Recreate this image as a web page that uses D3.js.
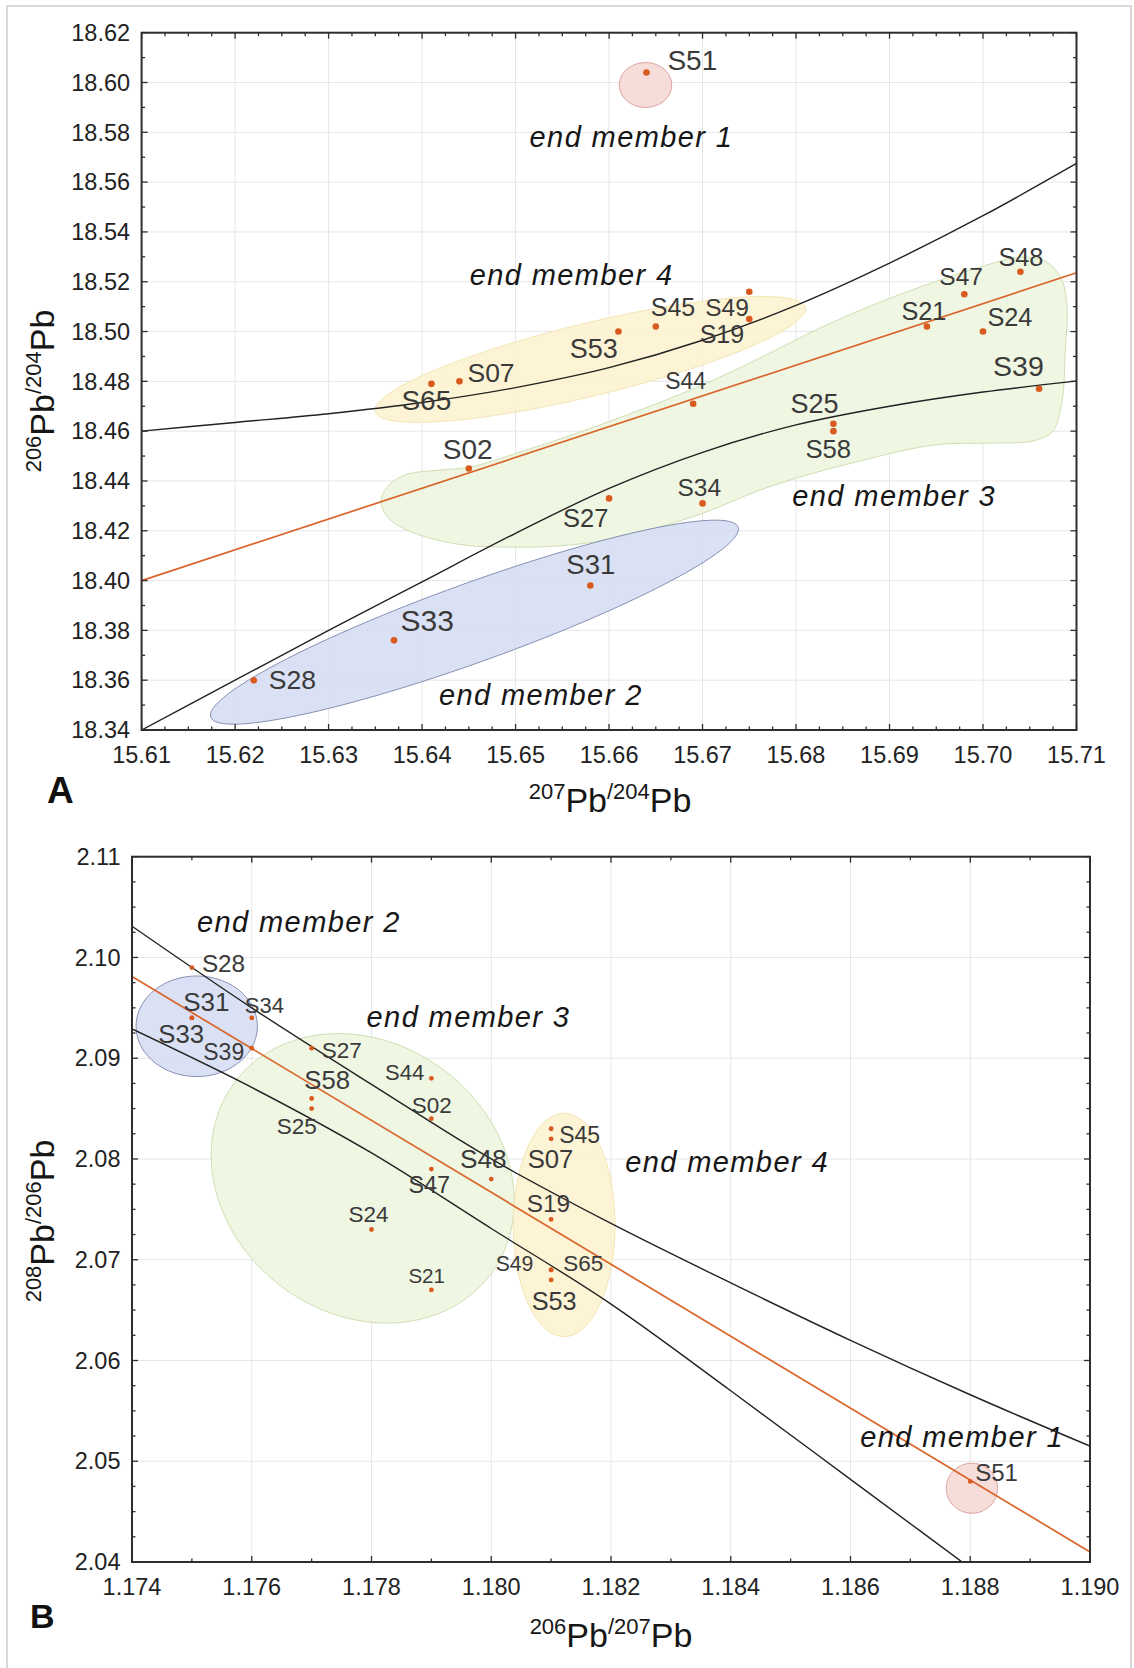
<!DOCTYPE html>
<html>
<head>
<meta charset="utf-8">
<script src="https://cdn.jsdelivr.net/npm/d3@7"></script>
<style>
  body { margin: 0; background: #ffffff; }
  svg { display: block; font-family: "Liberation Sans", Arial, Helvetica, sans-serif; }
</style>
</head>
<body>
<svg id="fig" width="1134" height="1668"></svg>
<script>
// ================= Panel A: 207Pb/204Pb vs 206Pb/204Pb =================
const samplesA  = ["S51","S65","S07","S53","S45","S49","S19","S44","S02","S27","S34","S25","S58","S21","S47","S48","S24","S39","S31","S33","S28"];
const pb207_204 = [15.664,15.641,15.644,15.661,15.665,15.675,15.675,15.669,15.645,15.660,15.670,15.684,15.684,15.694,15.698,15.704,15.700,15.706,15.658,15.637,15.622];
const pb206_204 = [18.604,18.479,18.480,18.500,18.502,18.516,18.505,18.471,18.445,18.433,18.431,18.463,18.460,18.502,18.515,18.524,18.500,18.477,18.398,18.376,18.360];

const ticksAx = [15.61,15.62,15.63,15.64,15.65,15.66,15.67,15.68,15.69,15.70,15.71];
const ticksAy = [18.34,18.36,18.38,18.40,18.42,18.44,18.46,18.48,18.50,18.52,18.54,18.56,18.58,18.60,18.62];

// mixing curves and regression line
const curveAx      = [15.61,15.62,15.63,15.64,15.65,15.66,15.67,15.68,15.69,15.70,15.71];
const mixUpperAy   = [18.460,18.4635,18.4670,18.4715,18.4775,18.4855,18.4965,18.5105,18.5275,18.5465,18.5675];
const mixLowerAy   = [18.340,18.360,18.380,18.3995,18.419,18.437,18.4515,18.4625,18.4700,18.4757,18.4801];
const regressionAx = [15.61,15.71];
const regressionAy = [18.400,18.5236];

// end-member fields: centre and two conjugate semi-axis end points
const fieldA1 = {c:[15.6639,18.599],  a:[15.6667,18.599],  b:[15.6639,18.608]};
const fieldA2 = {c:[15.6456,18.3833], a:[15.6738,18.4215], b:[15.6441,18.3981]};
const fieldA4 = {c:[15.6580,18.4888], a:[15.6810,18.5097], b:[15.6571,18.5030]};
// end member 3 field outline
const fieldA3 = [
  [15.63561,18.43233],[15.63657,18.43876],[15.63849,18.44277],[15.64192,18.44438],[15.64513,18.44558],
  [15.65048,18.45160],[15.65690,18.45964],[15.66331,18.46848],[15.66973,18.47812],[15.67615,18.48936],
  [15.68257,18.50141],[15.68899,18.51185],[15.69540,18.52068],[15.70075,18.52711],[15.70396,18.52992],
  [15.70663,18.52831],[15.70834,18.52149],[15.70898,18.51024],[15.70877,18.49056],[15.70845,18.47169],
  [15.70738,18.45964],[15.70524,18.45602],[15.70107,18.45522],[15.69572,18.45482],[15.69219,18.45281],
  [15.68684,18.44799],[15.68149,18.44277],[15.67615,18.43635],[15.67037,18.42751],[15.66502,18.42108],
  [15.65978,18.41627],[15.65443,18.41386],[15.64908,18.41345],[15.64373,18.41466],[15.63838,18.42028],
  [15.63624,18.42590]
];
const notesAtext = ["end member 1","end member 4","end member 3","end member 2"];
const notesAx    = [15.6515,15.6451,15.6796,15.6418];
const notesAy    = [18.5742,18.5187,18.4299,18.3500];

// ================= Panel B: 206Pb/207Pb vs 208Pb/206Pb =================
const samplesB  = ["S28","S31","S33","S34","S39","S27","S58","S25","S44","S02","S47","S48","S24","S21","S45","S07","S19","S49","S65","S53","S51"];
const pb206_207 = [1.175,1.175,1.175,1.176,1.176,1.177,1.177,1.177,1.179,1.179,1.179,1.180,1.178,1.179,1.181,1.181,1.181,1.181,1.181,1.181,1.188];
const pb208_206 = [2.099,2.094,2.094,2.094,2.091,2.091,2.086,2.085,2.088,2.084,2.079,2.078,2.073,2.067,2.083,2.082,2.074,2.069,2.069,2.068,2.048];

const ticksBx = [1.174,1.176,1.178,1.180,1.182,1.184,1.186,1.188,1.190];
const ticksBy = [2.04,2.05,2.06,2.07,2.08,2.09,2.10,2.11];

const mixUpperBx   = [1.174,1.176,1.178,1.180,1.182,1.184,1.186,1.188,1.190];
const mixUpperBy   = [2.1031,2.0950,2.0874,2.0800,2.0736,2.0677,2.0620,2.0566,2.0515];
const mixLowerBx   = [1.174,1.176,1.178,1.180,1.182,1.184,1.186,1.188];
const mixLowerBy   = [2.0929,2.0871,2.0806,2.0731,2.0656,2.0570,2.0482,2.0394];
const regressionBx = [1.174,1.190];
const regressionBy = [2.0981,2.0410];

const fieldB1 = {c:[1.188027,2.04732], a:[1.188455,2.04732], b:[1.188027,2.04980]};
const fieldB2 = {c:[1.175081,2.09317], a:[1.176094,2.09317], b:[1.175081,2.09816]};
const fieldB3 = {c:[1.177853,2.07808], a:[1.179988,2.06853], b:[1.179212,2.08881]};
const fieldB4 = {c:[1.181218,2.07345], a:[1.182067,2.07345], b:[1.181218,2.08453]};
const notesBtext = ["end member 2","end member 3","end member 4","end member 1"];
const notesBx    = [1.175086,1.177918,1.182237,1.186162];
const notesBy    = [2.10256,2.09313,2.07868,2.05139];

// ---------------- label placement (pixel offsets from the point, font size) ----------------
const labelLayoutA = {
  S51:[21,-3,28], S65:[-30,26,28], S07:[8,0.5,26.5], S53:[-48.6,26,27], S45:[-5,-10.7,25],
  S49:[-44,24.3,24.5], S19:[-49.6,24.2,25], S44:[-28,-15,23], S02:[-26,-10,28], S27:[-46,28.4,25.5],
  S34:[-25,-7.3,24.5], S25:[-43,-10.6,27], S58:[-28,27.3,25.7], S21:[-25.5,-6.7,25.3], S47:[-25,-9,24.5],
  S48:[-22,-6,25.3], S24:[4.4,-6,25.3], S39:[-46,-13.3,28.5], S31:[-24,-11.5,27.5], S33:[6.5,-9,30],
  S28:[15,9,26.5]
};
const labelLayoutB = [
  [10,4,24.3],[-8.6,-7,26],[-33.6,25,25.7],[-7,-5,22],[-48.5,12,23],[10,10,22.5],[-7.3,-10,25.7],
  [-35,25,22.5],[-46.4,1.6,22],[-19.7,-6,22.5],[-23,24,23.4],[-31.3,-11,26.2],[-23,-8,22.5],
  [-23,-7.4,20.6],[8,14,23],[-23.5,29.5,25.7],[-24.5,-7.7,24.4],[-55.5,1,21.2],[12,1,22.5],
  [-19.5,30,25.3],[5,-0.5,24]
];

// ---------------- drawing ----------------
const svg = d3.select("#fig");
const FONT_TICK = 23.5;
const COL_DOT = "#d95a1e", COL_REG = "#d9642a", COL_MIX = "#222222";
const STYLE = {
  pink:   {fill:"#f6d8d5", stroke:"#d9a09a", sw:1},
  blue:   {fill:"#d6ddf3", stroke:"#8690b4", sw:1},
  yellow: {fill:"#fdf3d0", stroke:"#f3e6b4", sw:1},
  green:  {fill:"#edf5de", stroke:"#cfdfb3", sw:1}
};

// outer figure border
svg.append("rect").attr("x",7).attr("y",6).attr("width",1124).attr("height",1680)
  .attr("fill","none").attr("stroke","#d9d9d9").attr("stroke-width",2);

function ellipsePath(e, x, y) {
  const cx = x(e.c[0]), cy = y(e.c[1]);
  const ax = x(e.a[0]) - cx, ay = y(e.a[1]) - cy;
  const bx = x(e.b[0]) - cx, by = y(e.b[1]) - cy;
  const pts = d3.range(121).map(i => {
    const t = i / 120 * 2 * Math.PI;
    return [cx + ax*Math.cos(t) + bx*Math.sin(t), cy + ay*Math.cos(t) + by*Math.sin(t)];
  });
  return d3.line()(pts) + "Z";
}

function stepRange(d0, d1, step) {
  const n = Math.round((d1 - d0) / step);
  return d3.range(n + 1).map(i => +(d0 + i*step).toFixed(6));
}

function drawPanel(o) {
  const {x, y, id} = o;
  const [L, R] = x.range(), [B, T] = y.range();
  const g = svg.append("g");

  g.append("clipPath").attr("id", id).append("rect")
    .attr("x", L).attr("y", T).attr("width", R - L).attr("height", B - T);
  const plot = g.append("g").attr("clip-path", `url(#${id})`);

  // gridlines
  plot.selectAll(null).data(o.xMajor).join("line")
    .attr("x1", d => x(d)).attr("x2", d => x(d)).attr("y1", T).attr("y2", B)
    .attr("stroke", "#e6e6e6").attr("stroke-width", 1);
  plot.selectAll(null).data(o.yMajor).join("line")
    .attr("y1", d => y(d)).attr("y2", d => y(d)).attr("x1", L).attr("x2", R)
    .attr("stroke", "#e6e6e6").attr("stroke-width", 1);

  // end member fields
  o.fields.forEach(f => {
    const s = STYLE[f.style];
    const dPath = f.outline
      ? d3.line().curve(d3.curveCatmullRomClosed.alpha(0.5)).x(p => x(p[0])).y(p => y(p[1]))(f.outline)
      : ellipsePath(f.ell, x, y);
    plot.append("path").attr("d", dPath).attr("fill", s.fill).attr("fill-opacity", 0.88)
      .attr("stroke", s.stroke).attr("stroke-width", s.sw);
  });

  // mixing curves
  const line = d3.line().curve(d3.curveMonotoneX).x(p => x(p[0])).y(p => y(p[1]));
  o.curves.forEach(c => {
    plot.append("path").attr("d", line(d3.zip(c.xs, c.ys)))
      .attr("fill", "none").attr("stroke", c.color).attr("stroke-width", c.width);
  });

  // sample points
  plot.selectAll(null).data(o.names).join("circle")
    .attr("cx", (d, i) => x(o.xs[i])).attr("cy", (d, i) => y(o.ys[i]))
    .attr("r", o.dotR).attr("fill", COL_DOT);

  // sample labels
  g.selectAll(null).data(o.names).join("text")
    .attr("x", (d, i) => x(o.xs[i]) + o.layout(d, i)[0])
    .attr("y", (d, i) => y(o.ys[i]) + o.layout(d, i)[1])
    .attr("font-size", (d, i) => o.layout(d, i)[2])
    .attr("fill", "#3a3a3a")
    .text(d => d);

  // end member annotations
  o.notes.text.forEach((t, i) => {
    g.append("text").attr("x", x(o.notes.xs[i])).attr("y", y(o.notes.ys[i]))
      .attr("font-size", 29).attr("font-style", "italic").attr("letter-spacing", 1.4)
      .attr("fill", "#161616").text(t);
  });

  // frame and ticks (inward)
  g.append("rect").attr("x", L).attr("y", T).attr("width", R - L).attr("height", B - T)
    .attr("fill", "none").attr("stroke", "#2e2e2e").attr("stroke-width", 2);
  const isMajor = (v, arr) => arr.some(m => Math.abs(m - v) < 1e-7);
  const tk = g.append("g").attr("stroke", "#2e2e2e").attr("stroke-width", 1.3);
  o.xMinor.forEach(v => {
    const len = isMajor(v, o.xMajor) ? 6 : 3.5;
    tk.append("line").attr("x1", x(v)).attr("x2", x(v)).attr("y1", B).attr("y2", B - len);
    tk.append("line").attr("x1", x(v)).attr("x2", x(v)).attr("y1", T).attr("y2", T + len);
  });
  o.yMinor.forEach(v => {
    const len = isMajor(v, o.yMajor) ? 6 : 3.5;
    tk.append("line").attr("y1", y(v)).attr("y2", y(v)).attr("x1", L).attr("x2", L + len);
    tk.append("line").attr("y1", y(v)).attr("y2", y(v)).attr("x1", R).attr("x2", R - len);
  });

  // tick labels
  g.selectAll(null).data(o.xMajor).join("text")
    .attr("x", d => x(d)).attr("y", B + 33.3).attr("text-anchor", "middle")
    .attr("font-size", FONT_TICK).attr("fill", "#222").text(o.fmtX);
  g.selectAll(null).data(o.yMajor).join("text")
    .attr("x", L - 11.5).attr("y", d => y(d)).attr("dy", "0.35em").attr("text-anchor", "end")
    .attr("font-size", FONT_TICK).attr("fill", "#222").text(o.fmtY);

  // axis titles with superscript mass numbers
  const title = (sel, parts) => {
    parts.forEach(p => {
      sel.append("tspan").attr("font-size", p.sup ? 22 : 34)
        .attr("dy", p.sup ? -13 : 13).text(p.t);
    });
  };
  const tx = g.append("text").attr("x", (L + R) / 2 + o.xTitleShift).attr("y", o.xTitleY)
    .attr("text-anchor", "middle").attr("fill", "#161616");
  title(tx, o.xTitle);
  const ty = g.append("text").attr("text-anchor", "middle").attr("fill", "#161616")
    .attr("transform", `translate(${o.yTitleX},${o.yTitleY}) rotate(-90)`);
  title(ty, o.yTitle);

  // panel letter
  g.append("text").attr("x", o.letterX).attr("y", o.letterY).attr("font-size", o.letterSize)
    .attr("font-weight", "bold").attr("fill", "#111").text(o.letter);
}

// ---- Panel A ----
const xA = d3.scaleLinear().domain([15.61, 15.71]).range([141.6, 1076.5]);
const yA = d3.scaleLinear().domain([18.34, 18.62]).range([730, 32.7]);
drawPanel({
  id: "clipA", x: xA, y: yA,
  xMajor: ticksAx, yMajor: ticksAy,
  xMinor: stepRange(15.61, 15.71, 0.0025), yMinor: stepRange(18.34, 18.62, 0.01),
  fmtX: d3.format(".2f"), fmtY: d3.format(".2f"),
  fields: [
    {style: "yellow", ell: fieldA4},
    {style: "green", outline: fieldA3},
    {style: "blue", ell: fieldA2},
    {style: "pink", ell: fieldA1}
  ],
  curves: [
    {xs: curveAx, ys: mixUpperAy, color: COL_MIX, width: 1.4},
    {xs: curveAx, ys: mixLowerAy, color: COL_MIX, width: 1.4},
    {xs: regressionAx, ys: regressionAy, color: COL_REG, width: 1.7}
  ],
  names: samplesA, xs: pb207_204, ys: pb206_204, dotR: 3.3,
  layout: (d) => labelLayoutA[d],
  notes: {text: notesAtext, xs: notesAx, ys: notesAy},
  xTitle: [{t:"207",sup:true},{t:"Pb"},{t:"/204",sup:true},{t:"Pb"}],
  yTitle: [{t:"206",sup:true},{t:"Pb"},{t:"/204",sup:true},{t:"Pb"}],
  xTitleShift: 1, xTitleY: 811.7, yTitleX: 53.6, yTitleY: 391,
  letter: "A", letterX: 47, letterY: 803.3, letterSize: 37
});

// ---- Panel B ----
const xB = d3.scaleLinear().domain([1.174, 1.190]).range([132, 1090]);
const yB = d3.scaleLinear().domain([2.04, 2.11]).range([1562, 856.7]);
drawPanel({
  id: "clipB", x: xB, y: yB,
  xMajor: ticksBx, yMajor: ticksBy,
  xMinor: stepRange(1.174, 1.190, 0.001), yMinor: stepRange(2.04, 2.11, 0.0025),
  fmtX: d3.format(".3f"), fmtY: d3.format(".2f"),
  fields: [
    {style: "green", ell: fieldB3},
    {style: "yellow", ell: fieldB4},
    {style: "blue", ell: fieldB2},
    {style: "pink", ell: fieldB1}
  ],
  curves: [
    {xs: mixUpperBx, ys: mixUpperBy, color: COL_MIX, width: 1.4},
    {xs: mixLowerBx, ys: mixLowerBy, color: COL_MIX, width: 1.4},
    {xs: regressionBx, ys: regressionBy, color: COL_REG, width: 1.7}
  ],
  names: samplesB, xs: pb206_207, ys: pb208_206, dotR: 2.4,
  layout: (d, i) => labelLayoutB[i],
  notes: {text: notesBtext, xs: notesBx, ys: notesBy},
  xTitle: [{t:"206",sup:true},{t:"Pb"},{t:"/207",sup:true},{t:"Pb"}],
  yTitle: [{t:"208",sup:true},{t:"Pb"},{t:"/206",sup:true},{t:"Pb"}],
  xTitleShift: 0, xTitleY: 1646.7, yTitleX: 53.6, yTitleY: 1221,
  letter: "B", letterX: 30, letterY: 1628.3, letterSize: 34
});
</script>
</body>
</html>
